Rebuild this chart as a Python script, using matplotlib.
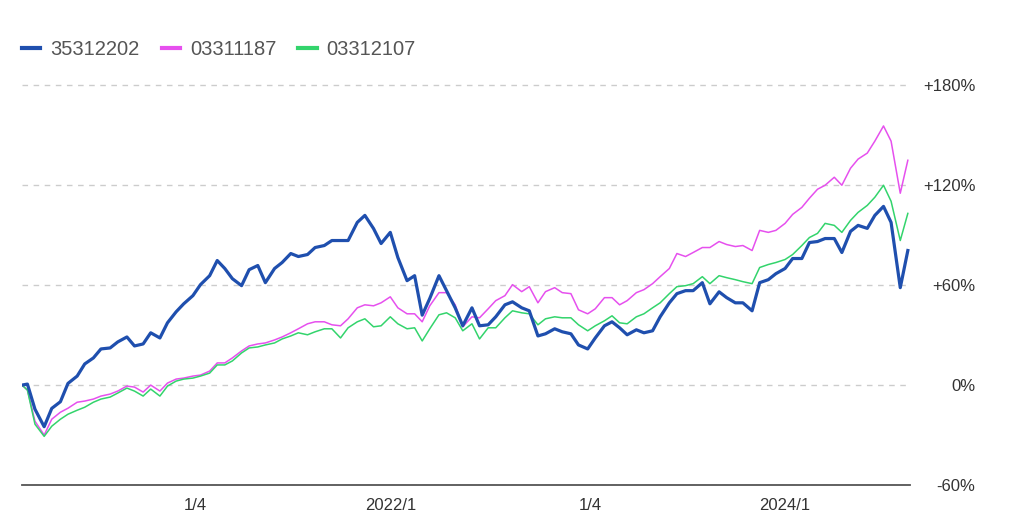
import numpy as np
import pandas as pd
import matplotlib
matplotlib.use('Agg')
import matplotlib.pyplot as plt

plt.rcParams['font.family'] = ['Liberation Sans', 'DejaVu Sans']

# semi-monthly sample dates (1st and 15th), plus the start day
start_date = '2020-02-20'
dates = [pd.Timestamp(start_date)] + list(pd.date_range('2020-03-01', periods=108, freq='SMS'))

names = ['35312202', '03311187', '03312107']

blue = [0,
    0.6, -14.5, -25, -14, -10, 1, 5.4, 12.7, 16.3, 21.7,
    22.3, 25.9, 28.9, 23.5, 24.7, 31.4, 28.3, 37.4, 44, 48.8,
    53.7, 60.3, 65.7, 74.8, 70, 63.9, 59.7, 69.3, 71.8, 61.5,
    70, 73.6, 79, 77.2, 78.4, 82.6, 83.8, 86.8, 86.8, 86.8,
    97.7, 101.9, 94, 85, 91.7, 76.6, 62.7, 65.7, 42, 52,
    65.7, 56.7, 46.4, 35.6, 46.4, 35.6, 36.2, 41, 48.2, 50,
    46.4, 44.6, 29.5, 30.8, 33.8, 32, 30.8, 24.1, 21.7, 28.3,
    35.6, 38, 34.4, 30.2, 33.2, 31.4, 32.6, 41, 49.4, 54.9,
    56.7, 56.7, 61.5, 48.8, 56, 52.5, 49.4, 49.4, 44.6, 61.5,
    63.3, 66.9, 70, 76, 76, 85.6, 86.2, 88, 88, 79.6,
    92.3, 95.9, 94.1, 101.9, 107.3, 97.7, 58.5, 80.8]

magenta = [0,
    -3, -21.7, -30, -20.5, -16.3, -13.9, -10.3, -9.6, -8.4, -6.6,
    -5.4, -3.6, -0.6, -1.2, -4.2, 0, -3.6, 1.2, 3.6, 4.2,
    5.4, 6, 8.4, 13.3, 13.3, 16.3, 20.5, 23.5, 24.7, 25.3,
    27.1, 28.9, 31.4, 33.8, 36.8, 38, 38, 36.2, 35.6, 39.8,
    46.4, 48.2, 47.6, 49.4, 53, 46.4, 42.8, 42.8, 38, 47.6,
    55.5, 55.5, 48.2, 35, 41, 40.4, 45.8, 50.7, 53.7, 60.3,
    56.1, 59.1, 49.4, 56.1, 58.5, 55.5, 54.9, 45.2, 42.8, 45.8,
    52.5, 52.5, 48.2, 50.7, 55.5, 57.3, 60.9, 65.1, 70, 79,
    77.2, 79.6, 82.6, 82.6, 86.2, 84.4, 83.2, 83.8, 80.8, 92.9,
    91.7, 92.9, 97.1, 102.5, 106.7, 112.2, 117.6, 120, 124.8, 120,
    130.2, 135.7, 139.3, 146.5, 155.6, 146.5, 115.2, 135]

green = [0,
    -3, -23.5, -30.8, -24.7, -20.5, -17.5, -15.1, -13.3, -10.3, -8.4,
    -7.2, -4.8, -1.8, -3.6, -6.6, -2.4, -6.6, -0.6, 2.4, 3.6,
    4.2, 5.4, 7.2, 12.1, 12.1, 14.5, 19.3, 22.3, 22.9, 24.1,
    25.3, 27.7, 29.5, 31.4, 30.2, 32, 33.8, 33.8, 28.3, 34.4,
    38, 39.8, 35, 35.6, 41, 36.8, 33.8, 34.4, 26.5, 33.8,
    42.2, 43.4, 40.4, 32.6, 36.8, 27.7, 34.4, 34.4, 40.4, 44.6,
    43.4, 42.8, 36.2, 39.8, 41, 40.4, 40.4, 36.2, 32.6, 35.6,
    38.6, 41.6, 37.4, 36.8, 41, 42.8, 46.4, 49.4, 54.9, 59.1,
    59.7, 60.9, 65.1, 60.9, 65.7, 64.5, 63.3, 62.1, 60.9, 70.6,
    72.4, 73.6, 75.4, 78.4, 83.8, 88.6, 91.1, 97.1, 95.9, 91.7,
    98.9, 103.7, 107.9, 112.8, 120, 110.4, 86.8, 103.1]

xtick_dates = ['2021-01-05', '2022-01-01', '2023-01-05', '2024-01-01']
xtick_labels = ['1/4', '2022/1', '1/4', '2024/1']
yticks = [-60, 0, 60, 120, 180]
ytick_labels = ['-60%', '0%', '+60%', '+120%', '+180%']

fig = plt.figure(figsize=(10.24, 5.25), dpi=100)
ax = fig.add_axes([22/1024, 40/525, 888/1024, 408/525])

l2, = ax.plot(dates, magenta, color='#e650ee', lw=1.1, label=names[1], zorder=3)
l3, = ax.plot(dates, green, color='#33d46c', lw=1.1, label=names[2], zorder=3)
l1, = ax.plot(dates, blue, color='#1f4fae', lw=2.3, label=names[0], zorder=4)

ax.set_xlim(pd.Timestamp('2020-02-20'), pd.Timestamp('2024-08-19'))
ax.set_ylim(-60, 185)

for s in ['top', 'left', 'right']:
    ax.spines[s].set_visible(False)
ax.spines['bottom'].set_color('#555555')
ax.spines['bottom'].set_linewidth(1.3)

ax.set_yticks(yticks)
ax.set_yticklabels(ytick_labels)
ax.yaxis.tick_right()
ax.tick_params(axis='y', length=0, pad=47, labelsize=12, labelcolor='#333333')
for lbl in ax.get_yticklabels():
    lbl.set_horizontalalignment('right')
ax.grid(axis='y', color='#cccccc', lw=1, dashes=(4, 4))
ax.set_axisbelow(True)

ax.set_xticks([pd.Timestamp(d) for d in xtick_dates])
ax.set_xticklabels(xtick_labels)
ax.tick_params(axis='x', length=0, pad=9, labelsize=12, labelcolor='#333333')

fig.legend(handles=[l1, l2, l3], loc='upper left', bbox_to_anchor=(4/1024, 1 - 22/525),
           ncol=3, frameon=False, fontsize=14.5, handlelength=0.9, columnspacing=1.1,
           handletextpad=0.5, labelcolor='#555555')
for line in fig.legends[0].get_lines():
    line.set_linewidth(3)

fig.savefig('out.png', dpi=100)
